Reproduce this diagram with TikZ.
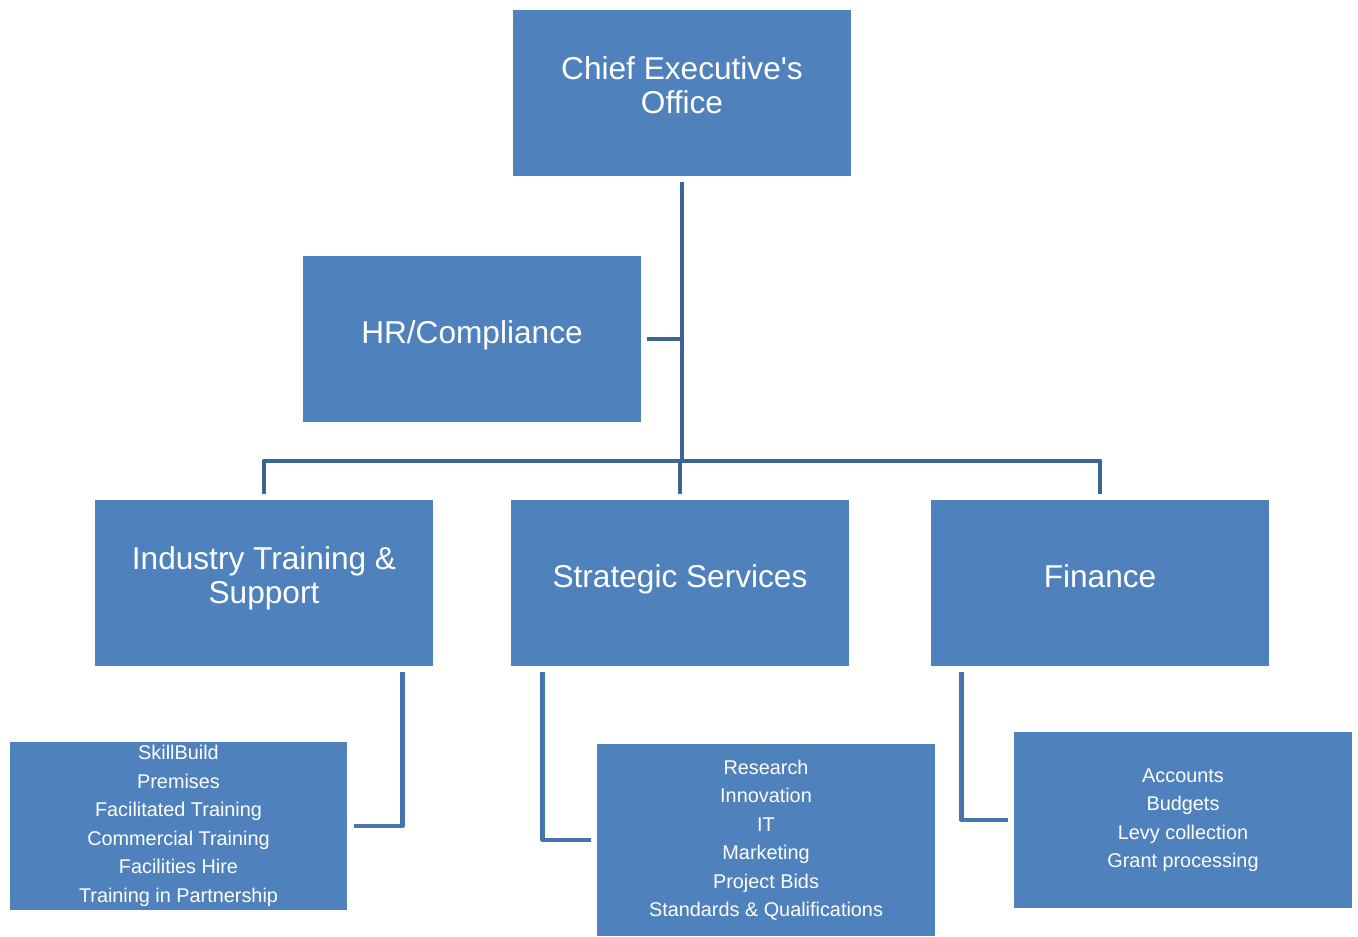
\documentclass[tikz,border=0pt]{standalone}
\usepackage{fontspec}
\setmainfont{Liberation Sans}
\definecolor{boxblue}{HTML}{4F81BD}
\definecolor{linkblue}{HTML}{3C6595}
\definecolor{leafblue}{HTML}{4674AE}
\newcommand{\unitstrut}{\rule[-9pt]{0pt}{23pt}}
\begin{document}
\begin{tikzpicture}[x=0.02cm, y=-0.02cm, line join=round,
		unit/.style={fill=boxblue, text=white, minimum width=6.76cm, minimum height=3.32cm, align=center, inner sep=0pt, font=\fontsize{18}{19.5}\selectfont, execute at begin node=\unitstrut, execute at end node=\unitstrut},
		duty/.style={fill=boxblue, text=white, minimum width=6.75cm, align=center, inner sep=0pt, font=\fontsize{11.3}{16.2}\selectfont},
		link/.style={draw=linkblue, line width=2.8pt},
		leaf/.style={draw=leafblue, line width=2.8pt}]
			\useasboundingbox (0,0) rectangle (1358,936);
			\path (682,93) node[unit] (ceo) {Chief Executive\textquotesingle s\\Office}
			(472,339) node[unit] (hr) {HR/Compliance}
			(264,583) node[unit] (its) {Industry Training \&\\Support}
			(680,583) node[unit] (strat) {Strategic Services}
			(1100,583) node[unit] (fin) {Finance};
			\path (178.5,826) node[duty, minimum height=3.36cm] (skill) {SkillBuild\\Premises\\Facilitated Training\\Commercial Training\\Facilities Hire\\Training in Partnership}
			(766,840) node[duty, minimum height=3.84cm] (res) {Research\\Innovation\\IT\\Marketing\\Project Bids\\Standards \& Qualifications}
			(1183,820) node[duty, minimum height=3.52cm] (acc) {Accounts\\Budgets\\Levy collection\\Grant processing};
			\coordinate (bar) at (682,461);
			% top of the tree
			\draw[link] ([yshift=-0.12cm]ceo.south) -- (bar);
			\draw[link] ([xshift=0.12cm]hr.east) -- (hr.east -| bar);
			\draw[link] ([yshift=0.12cm]its.north) -- (its.north |- bar) -- (fin.north |- bar) -- ([yshift=0.12cm]fin.north);
			\draw[link] (strat.north |- bar) -- ([yshift=0.12cm]strat.north);
			% duties
			\draw[leaf] ([xshift=-0.62cm, yshift=-0.12cm]its.south east) |- ([xshift=0.12cm]skill.east);
			\draw[leaf] ([xshift=0.64cm, yshift=-0.12cm]strat.south west) |- ([xshift=-0.12cm]res.west);
			\draw[leaf] ([xshift=0.62cm, yshift=-0.12cm]fin.south west) |- ([xshift=-0.12cm]acc.west);
		\end{tikzpicture}
\end{document}
